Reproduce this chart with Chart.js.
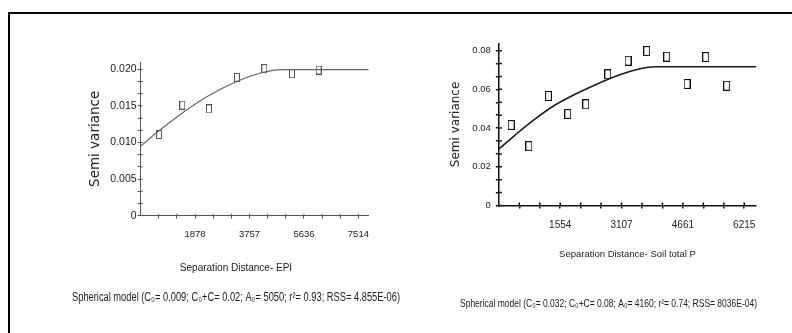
<!DOCTYPE html>
<html>
<head>
<meta charset="utf-8">
<script src="https://cdn.jsdelivr.net/npm/chart.js@4.4.1/dist/chart.umd.min.js"></script>
<style>
  html, body { margin: 0; padding: 0; background: #fff; }
  body { width: 792px; height: 333px; position: relative; overflow: hidden; }
  .frame { position: absolute; left: 8px; top: 12px; right: -10px; bottom: -10px; border-top: 2px solid #000; border-left: 2px solid #000; }
  canvas { position: absolute; top: 0; }
  #epiChart { left: 0; }
  #soilChart { left: 420px; }
</style>
</head>
<body>
<div class="frame"></div>
<canvas id="epiChart" width="420" height="333"></canvas>
<canvas id="soilChart" width="372" height="333"></canvas>
<script>
// EPI semivariogram
const epiXTicks = [1878, 3757, 5636, 7514];
const epiYTicks = [0, 0.005, 0.010, 0.015, 0.020];
const epiYLabels = ['0', '0.005', '0.010', '0.015', '0.020'];
const epiLagDist = [635, 1438, 2359, 3325, 4267, 5223, 6144];
const epiSemiVar = [0.0111, 0.0151, 0.0146, 0.0189, 0.0201, 0.0194, 0.0199];
const epiModelDist = [0, 600, 1290, 1980, 2670, 3360, 4050, 4626, 5100, 7870];
const epiModelVar = [0.0095, 0.0115, 0.0136, 0.0155, 0.0171, 0.0184, 0.0194, 0.0199, 0.01995, 0.01995];

// Soil total P semivariogram
const soilXTicks = [1554, 3107, 4661, 6215];
const soilYTicks = [0, 0.02, 0.04, 0.06, 0.08];
const soilYLabels = ['0', '0.02', '0.04', '0.06', '0.08'];
const soilLagDist = [311, 759, 1255, 1746, 2202, 2759, 3272, 3745, 4252, 4766, 5239, 5770];
const soilSemiVar = [0.0416, 0.0307, 0.0566, 0.0473, 0.0523, 0.0678, 0.0748, 0.0798, 0.0769, 0.0628, 0.0767, 0.0619];
const soilModelDist = [0, 413, 919, 1425, 1931, 2437, 2944, 3450, 3956, 6513];
const soilModelVar = [0.0292, 0.0364, 0.0447, 0.0519, 0.0575, 0.0623, 0.0666, 0.0700, 0.0717, 0.0717];

const epiSepText = 'Separation Distance- EPI';
const epiModelText = 'Spherical model (C\u2080= 0.009; C\u2080+C= 0.02; A\u2080= 5050; r\u00b2= 0.93; RSS= 4.855E-06)';
const soilSepText = 'Separation Distance- Soil total P';
const soilModelText = 'Spherical model (C\u2080= 0.032; C\u2080+C= 0.08; A\u2080= 4160; r\u00b2= 0.74; RSS= 8036E-04)';

const textFamily = "'Liberation Sans', Arial, sans-serif";
const axisTitleFamily = "'DejaVu Sans', sans-serif";

// major ticks with two minor ticks between each pair
function withMinors(majors, start) {
    const out = [];
    let prev = start;
    majors.forEach(m => {
        if (prev !== null) {
            const step = (m - prev) / 3;
            out.push(prev + step, prev + 2 * step);
        }
        out.push(m);
        prev = m;
    });
    return out;
}

function labelOf(v, majors, labels) {
    const i = majors.findIndex(m => Math.abs(m - v) < 1e-12);
    return i >= 0 ? labels[i] : '';
}

// hollow upright rectangle used as the point marker
function boxMarker(w, h, color, lw) {
    const c = document.createElement('canvas');
    c.width = w;
    c.height = h;
    const g = c.getContext('2d');
    g.strokeStyle = color;
    g.lineWidth = lw;
    g.strokeRect(lw / 2, lw / 2, w - lw, h - lw);
    return c;
}

function axisLook(color, width) {
    return {
        border: { display: true, color: color, width: width },
        grid: { display: true, drawOnChartArea: false, drawTicks: true, tickLength: 3, color: color, lineWidth: width }
    };
}

function toPoints(xs, ys) {
    return xs.map((x, i) => ({ x: x, y: ys[i] }));
}

// empty right-hand box, only reserves room so the caption lines sit where they should
function spacer(width) {
    return {
        type: 'linear', position: 'right', display: true,
        grid: { display: false }, border: { display: false }, ticks: { display: false },
        afterFit: s => { s.width = width; }
    };
}

// tick marks in the original cross the axis line, so add the inner half
const innerTicks = {
    id: 'innerTicks',
    afterDraw(chart, args, opts) {
        const { ctx, chartArea } = chart;
        ctx.save();
        ctx.strokeStyle = opts.color;
        ctx.lineWidth = opts.width;
        ctx.beginPath();
        chart.scales.x.ticks.forEach(t => {
            const p = chart.scales.x.getPixelForValue(t.value);
            ctx.moveTo(p, chartArea.bottom);
            ctx.lineTo(p, chartArea.bottom - opts.length);
        });
        chart.scales.y.ticks.forEach(t => {
            const p = chart.scales.y.getPixelForValue(t.value);
            ctx.moveTo(chartArea.left, p);
            ctx.lineTo(chartArea.left + opts.length, p);
        });
        ctx.stroke();
        ctx.restore();
    }
};

// Left chart: EPI
new Chart(document.getElementById('epiChart'), {
    type: 'scatter',
    data: {
        datasets: [
            {
                data: toPoints(epiModelDist, epiModelVar),
                showLine: true,
                borderColor: '#666',
                borderWidth: 1.2,
                pointRadius: 0,
                cubicInterpolationMode: 'monotone',
                xAxisID: 'x', yAxisID: 'y'
            },
            {
                data: toPoints(epiLagDist, epiSemiVar),
                showLine: false,
                pointStyle: boxMarker(6, 9, '#555', 1),
                pointRadius: 4,
                xAxisID: 'x', yAxisID: 'y'
            }
        ]
    },
    plugins: [innerTicks],
    options: {
        responsive: false,
        animation: false,
        layout: { padding: { left: 72, top: 62, right: 20, bottom: 27.5 } },
        plugins: {
            legend: { display: false },
            tooltip: { enabled: false },
            innerTicks: { color: '#555', width: 1, length: 2 },
            subtitle: {
                display: true, position: 'bottom',
                text: epiSepText,
                font: { family: textFamily, size: 10 },
                color: '#222',
                padding: { top: 11.3, bottom: 0 }
            },
            title: {
                display: true, position: 'bottom',
                text: epiModelText,
                font: { family: textFamily, size: 12.5, weight: 'normal' },
                color: '#222',
                padding: { top: 16.5, bottom: 0 }
            }
        },
        scales: {
            x: {
                type: 'linear', position: 'bottom', min: 0, max: 7870,
                afterBuildTicks: s => { s.ticks = withMinors(epiXTicks, 0).map(v => ({ value: v })); },
                afterFit: s => { s.height = 35; },
                ticks: {
                    autoSkip: false, maxRotation: 0, padding: 10,
                    font: { family: textFamily, size: 9.5 }, color: '#222',
                    callback: v => labelOf(v, epiXTicks, epiXTicks.map(String))
                },
                ...axisLook('#555', 1)
            },
            y: {
                type: 'linear', position: 'left', min: 0, max: 0.021,
                afterBuildTicks: s => { s.ticks = withMinors(epiYTicks, null).map(v => ({ value: v })); },
                afterFit: s => { s.width = 68.6; },
                ticks: {
                    autoSkip: false, padding: 1,
                    font: { family: textFamily, size: 10.5 }, color: '#222',
                    callback: v => labelOf(v, epiYTicks, epiYLabels)
                },
                title: {
                    display: true, text: 'Semi variance',
                    font: { family: axisTitleFamily, size: 13.5 },
                    color: '#222',
                    padding: { top: 14.9, bottom: 0 }
                },
                ...axisLook('#555', 1)
            },
            yr: spacer(31.3)
        }
    }
});

// Right chart: Soil total P
new Chart(document.getElementById('soilChart'), {
    type: 'scatter',
    data: {
        datasets: [
            {
                data: toPoints(soilModelDist, soilModelVar),
                showLine: true,
                borderColor: '#1a1a1a',
                borderWidth: 1.6,
                pointRadius: 0,
                cubicInterpolationMode: 'monotone',
                xAxisID: 'x', yAxisID: 'y'
            },
            {
                data: toPoints(soilLagDist, soilSemiVar),
                showLine: false,
                pointStyle: boxMarker(7, 10, '#111', 1.1),
                pointRadius: 4,
                xAxisID: 'x', yAxisID: 'y'
            }
        ]
    },
    plugins: [innerTicks],
    options: {
        responsive: false,
        animation: false,
        layout: { padding: { left: 40, top: 43.3, right: 35, bottom: 22.1 } },
        plugins: {
            legend: { display: false },
            tooltip: { enabled: false },
            innerTicks: { color: '#111', width: 1.5, length: 3 },
            title: {
                display: true, position: 'bottom',
                text: soilModelText,
                font: { family: textFamily, size: 11.5, weight: 'normal' },
                color: '#222',
                padding: { top: 35.6, bottom: 0 }
            }
        },
        scales: {
            x: {
                type: 'linear', position: 'bottom', min: 0, max: 6513,
                afterBuildTicks: s => { s.ticks = withMinors(soilXTicks, 0).map(v => ({ value: v })); },
                afterFit: s => { s.height = 56; },
                ticks: {
                    autoSkip: false, maxRotation: 0, padding: 11,
                    font: { family: textFamily, size: 10 }, color: '#222',
                    callback: v => labelOf(v, soilXTicks, soilXTicks.map(String))
                },
                title: {
                    display: true, text: soilSepText,
                    font: { family: textFamily, size: 9.5 },
                    color: '#222',
                    padding: { top: 0, bottom: 1.8 }
                },
                ...axisLook('#111', 1.5)
            },
            y: {
                type: 'linear', position: 'left', min: 0, max: 0.0838,
                afterBuildTicks: s => { s.ticks = withMinors(soilYTicks, null).map(v => ({ value: v })); },
                afterFit: s => { s.width = 38.85; },
                ticks: {
                    autoSkip: false, padding: 5,
                    font: { family: textFamily, size: 9.5 }, color: '#222',
                    callback: v => labelOf(v, soilYTicks, soilYLabels)
                },
                title: {
                    display: true, text: 'Semi variance',
                    font: { family: axisTitleFamily, size: 12 },
                    color: '#222',
                    padding: { top: -11.5, bottom: 0 }
                },
                ...axisLook('#111', 1.5)
            },
            yr: spacer(1)
        }
    }
});
</script>
</body>
</html>
